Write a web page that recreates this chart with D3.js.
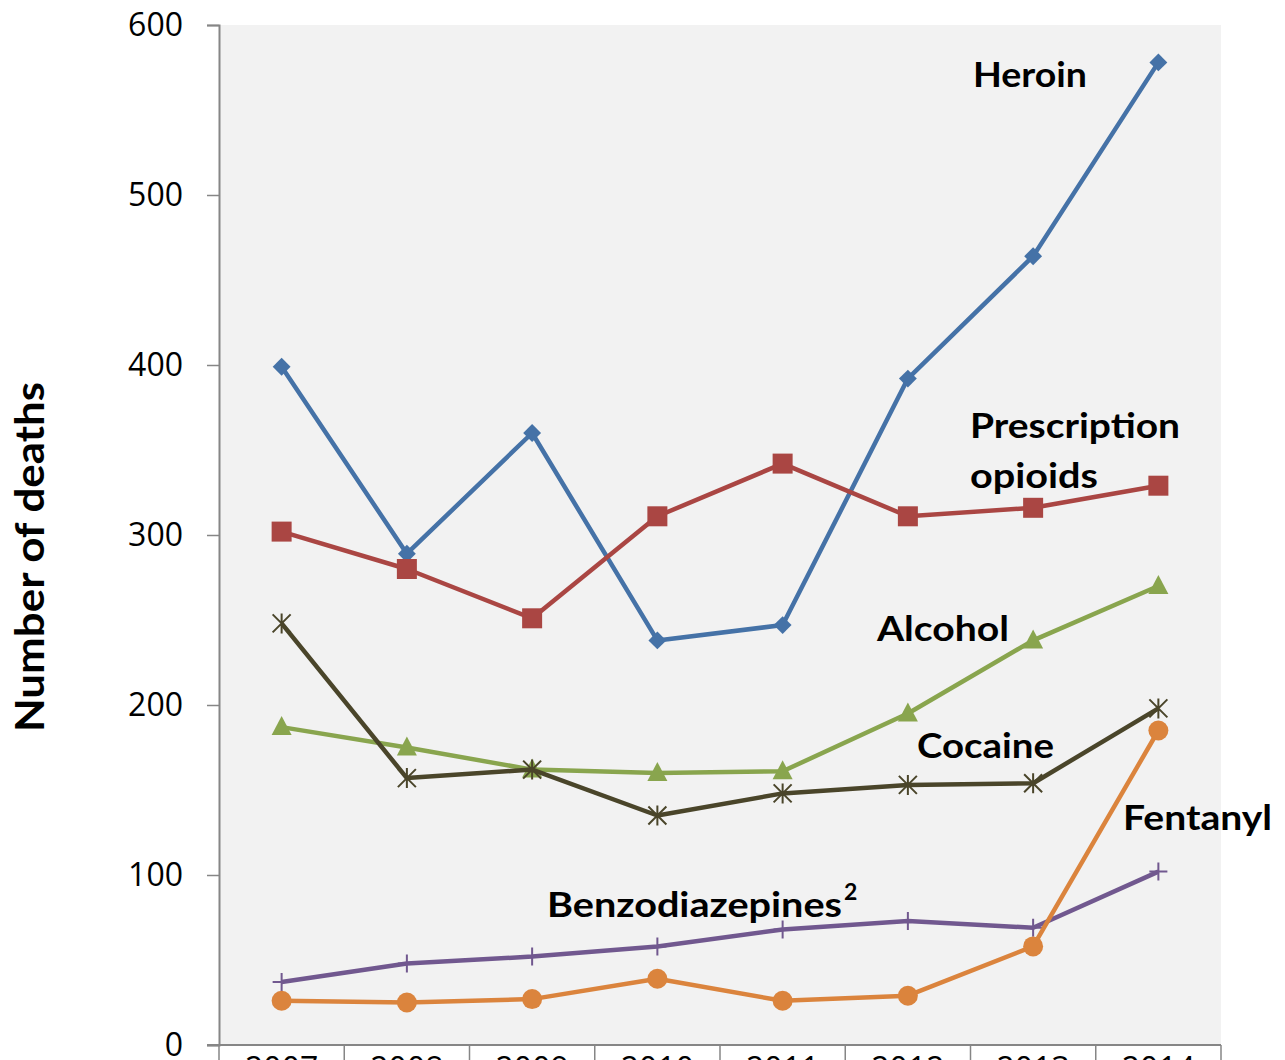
<!DOCTYPE html>
<html><head><meta charset="utf-8">
<script src="https://cdn.jsdelivr.net/npm/d3@7"></script>
<style>body{margin:0;background:#fff}svg{display:block}</style>
</head><body>
<svg id="c" width="1285" height="1060"></svg>
<script>
const years = ["2007","2008","2009","2010","2011","2012","2013","2014"];
const heroin = [399,289,360,238,247,392,464,578];
const rxOpioids = [302,280,251,311,342,311,316,329];
const alcohol = [187,175,162,160,161,195,238,270];
const cocaine = [248,157,162,135,148,153,154,198];
const benzos = [37,48,52,58,68,73,69,102];
const fentanyl = [26,25,27,39,26,29,58,185];
const yTicks = [0,100,200,300,400,500,600];

const series = [
  {name:"Heroin", values:heroin, color:"#4572A7", marker:"diamond"},
  {name:"Prescription opioids", values:rxOpioids, color:"#AA4643", marker:"square"},
  {name:"Alcohol", values:alcohol, color:"#89A54E", marker:"triangle"},
  {name:"Cocaine", values:cocaine, color:"#4A452A", marker:"star"},
  {name:"Benzodiazepines", values:benzos, color:"#71588F", marker:"plus"},
  {name:"Fentanyl", values:fentanyl, color:"#DB843D", marker:"circle"}
];

const svg = d3.select("#c");
const pL=219, pR=1221, pT=25, pB=1045;
const x = d3.scaleBand().domain(years).range([pL,pR]);
const y = d3.scaleLinear().domain([0,600]).range([pB,pT]);
const font = "Lato, 'Open Sans', sans-serif";

svg.append("rect").attr("x",pL).attr("y",pT).attr("width",pR-pL).attr("height",pB-pT).attr("fill","#F2F2F2");

// y axis
const ya = svg.append("g").attr("transform",`translate(${pL},0)`)
  .call(d3.axisLeft(y).tickValues(yTicks).tickSize(12).tickPadding(24));
ya.select(".domain").attr("stroke","#868686").attr("stroke-width",2);
ya.selectAll(".tick line").attr("stroke","#868686").attr("stroke-width",1.5);
ya.selectAll(".tick text").attr("font-family","'Open Sans', sans-serif").attr("font-size",32).attr("fill","#000");

// x axis (labels mostly cut off at the bottom edge, as in the reference)
const xa = svg.append("g").attr("transform",`translate(0,${pB})`)
  .call(d3.axisBottom(x).tickSizeOuter(0).tickSize(0).tickPadding(12));
xa.select(".domain").remove();
svg.append("line").attr("x1",207).attr("x2",pR).attr("y1",pB).attr("y2",pB).attr("stroke","#868686").attr("stroke-width",2);
const bounds = years.map(d=>x(d)).concat([pR]);
svg.selectAll(".xt").data(bounds).enter().append("line")
  .attr("x1",d=>d).attr("x2",d=>d).attr("y1",pB).attr("y2",1060).attr("stroke","#868686").attr("stroke-width",1.5);
xa.selectAll(".tick text").attr("font-family","'Open Sans', sans-serif").attr("font-size",32).attr("fill","#000");

// y title
svg.append("text").attr("transform","translate(44,557) rotate(-90)").attr("text-anchor","middle")
  .attr("font-family",font).attr("font-weight","bold").attr("font-size",40).attr("fill","#000")
  .attr("textLength",350).attr("lengthAdjust","spacingAndGlyphs").text("Number of deaths");

const cx = d => x(d) + x.bandwidth()/2;
const line = d3.line().x((d,i)=>cx(years[i])).y(d=>y(d));

series.forEach(s=>{
  const g = svg.append("g");
  g.append("path").datum(s.values).attr("d",line).attr("fill","none").attr("stroke",s.color).attr("stroke-width",4.5).attr("stroke-linejoin","round");
  const pts = g.selectAll(".m").data(s.values).enter().append("g")
    .attr("transform",(d,i)=>`translate(${cx(years[i])},${y(d)})`);
  if(s.marker==="diamond") pts.append("path").attr("d",d3.symbol(d3.symbolSquare,160)()).attr("transform","rotate(45)").attr("fill",s.color);
  if(s.marker==="square") pts.append("rect").attr("x",-10).attr("y",-10).attr("width",20).attr("height",20).attr("fill",s.color);
  if(s.marker==="triangle") pts.append("path").attr("d","M0,-11 L10,8 L-10,8 Z").attr("fill",s.color);
  if(s.marker==="circle") pts.append("circle").attr("r",10).attr("fill",s.color);
  if(s.marker==="star") pts.append("path").attr("d","M-9,-9L9,9M-9,9L9,-9M0,-10L0,10").attr("stroke",s.color).attr("stroke-width",2);
  if(s.marker==="plus") pts.append("path").attr("d","M-9,0L9,0M0,-9L0,9").attr("stroke",s.color).attr("stroke-width",2);
});

const labels = [
  {t:"Heroin", x:973, y:87, w:114},
  {t:"Prescription", x:970, y:438, w:210},
  {t:"opioids", x:970, y:488, w:128},
  {t:"Alcohol", x:877, y:641, w:132},
  {t:"Cocaine", x:917, y:758, w:137},
  {t:"Fentanyl", x:1123, y:830, w:149}
];
labels.forEach(l=>svg.append("text").attr("x",l.x).attr("y",l.y).attr("font-family",font).attr("font-weight","bold")
  .attr("font-size",35).attr("fill","#000").attr("textLength",l.w).attr("lengthAdjust","spacingAndGlyphs").text(l.t));
svg.append("text").attr("x",547).attr("y",917).attr("font-family",font).attr("font-weight","bold").attr("font-size",35).attr("fill","#000")
  .attr("textLength",295).attr("lengthAdjust","spacingAndGlyphs").text("Benzodiazepines");
svg.append("text").attr("x",844).attr("y",900).attr("font-family",font).attr("font-weight","bold").attr("font-size",23).attr("fill","#000").text("2");
</script>
</body></html>
